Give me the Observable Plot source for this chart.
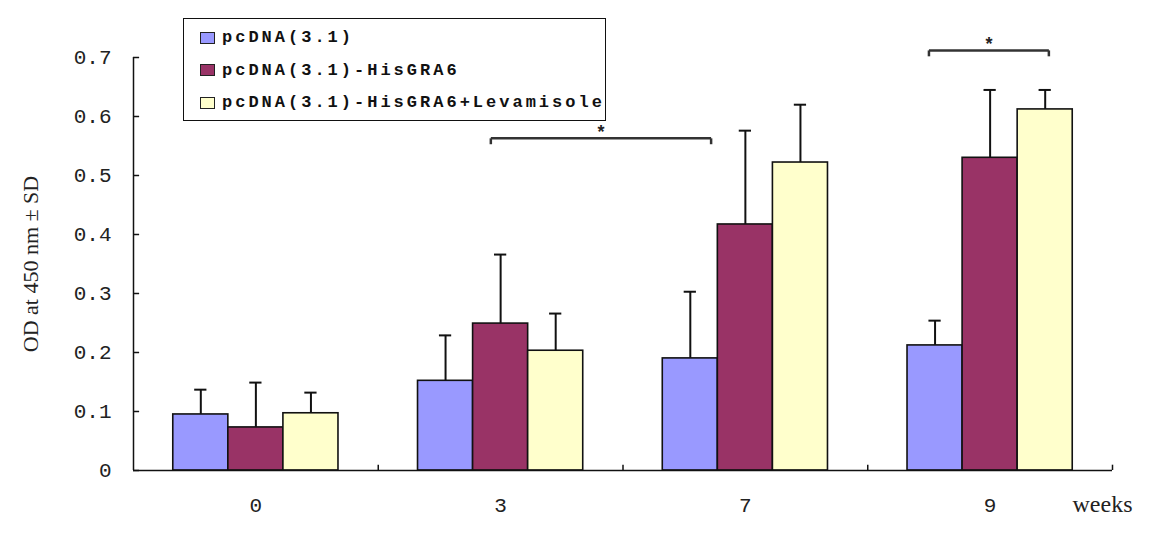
<!DOCTYPE html>
<html>
<head>
<meta charset="utf-8">
<script src="https://cdn.jsdelivr.net/npm/d3@7"></script>
<script src="https://cdn.jsdelivr.net/npm/@observablehq/plot@0.6"></script>
<style>
  html, body { margin: 0; padding: 0; background: #fff; }
  #wrap { position: relative; width: 1150px; height: 538px; }
  #legend {
    position: absolute; left: 183px; top: 18px; width: 423px; height: 103px;
    border: 1.5px solid #111; background: #fff; box-sizing: border-box;
    font-family: "Liberation Mono", "DejaVu Sans Mono", monospace; font-weight: bold;
    font-size: 17px; letter-spacing: 3px; color: #111;
  }
  .row { position: absolute; left: 16px; display: flex; align-items: center; white-space: nowrap; }
  .sw { width: 15px; height: 12px; border: 1.5px solid #222; margin-right: 7px; box-sizing: border-box; }
</style>
</head>
<body>
<div id="wrap"><div id="chart"></div><div id="legend"></div></div>
<script>
const weeks = ["0", "3", "7", "9"];
const seriesNames = ["pcDNA(3.1)", "pcDNA(3.1)-HisGRA6", "pcDNA(3.1)-HisGRA6+Levamisole"];
const seriesColors = ["#9999FF", "#993366", "#FFFFCC"];
// mean values per series (index = week)
const meanVector = [0.095, 0.152, 0.190, 0.212];
const meanGRA6 = [0.073, 0.249, 0.417, 0.530];
const meanLev = [0.097, 0.203, 0.522, 0.612];
// SD (upper error bar length)
const sdVector = [0.042, 0.077, 0.113, 0.042];
const sdGRA6 = [0.076, 0.117, 0.159, 0.115];
const sdLev = [0.035, 0.063, 0.098, 0.033];
const yTicks = [0, 0.1, 0.2, 0.3, 0.4, 0.5, 0.6, 0.7];
// significance brackets, x in week-index units
const brackets = [
  {x1: 0.96, x2: 1.86, y: 0.563, drop: 0.01, label: "*"},
  {x1: 2.75, x2: 3.24, y: 0.712, drop: 0.01, label: "*"}
];

const means = [meanVector, meanGRA6, meanLev];
const sds = [sdVector, sdGRA6, sdLev];
const barW = 0.225;
const data = [];
weeks.forEach((w, i) => {
  seriesNames.forEach((s, k) => {
    const x1 = i + (k - 1.5) * barW;
    data.push({week: w, i, series: s, k, x1, x2: x1 + barW, xc: x1 + barW / 2,
               mean: means[k][i], top: means[k][i] + sds[k][i]});
  });
});

const capHalf = 0.025;
const bracketSegs = [];
brackets.forEach(b => {
  bracketSegs.push({x1: b.x1, x2: b.x2, y1: b.y, y2: b.y});
  bracketSegs.push({x1: b.x1, x2: b.x1, y1: b.y, y2: b.y - b.drop});
  bracketSegs.push({x1: b.x2, x2: b.x2, y1: b.y, y2: b.y - b.drop});
});

const chart = Plot.plot({
  width: 1150,
  height: 538,
  marginLeft: 133,
  marginRight: 38,
  marginTop: 57,
  marginBottom: 68,
  style: {background: "#fff", overflow: "visible"},
  x: {type: "linear", domain: [-0.5, 3.5], axis: null},
  y: {domain: [0, 0.7], axis: null},
  color: {domain: seriesNames, range: seriesColors},
  marks: [
    Plot.rectY(data, {x1: "x1", x2: "x2", y1: 0, y2: "mean", fill: "series", stroke: "#111", strokeWidth: 1.6}),
    Plot.ruleX(data, {x: "xc", y1: "mean", y2: "top", stroke: "#111", strokeWidth: 2}),
    Plot.ruleY(data, {y: "top", x1: d => d.xc - capHalf, x2: d => d.xc + capHalf, stroke: "#111", strokeWidth: 2}),
    // y axis
    Plot.ruleX([-0.5], {y1: 0, y2: 0.7, stroke: "#111", strokeWidth: 1.5}),
    Plot.ruleY(yTicks, {y: d => d, x1: -0.5, x2: -0.475, stroke: "#111", strokeWidth: 1.5}),
    Plot.text(yTicks, {y: d => d, x: -0.5, text: d => d === 0 ? "0" : d3.format(".1f")(d), textAnchor: "end", dx: -22,
      fontFamily: "Liberation Mono, DejaVu Sans Mono, monospace", fontSize: 21, letterSpacing: "3.5px", fill: "#222"}),
    // x axis
    Plot.ruleY([0], {x1: -0.5, x2: 3.5, stroke: "#111", strokeWidth: 1.5}),
    Plot.ruleX([0.5, 1.5, 2.5, 3.5], {x: d => d, y1: 0, y2: 0.009, stroke: "#111", strokeWidth: 1.5}),
    Plot.text(weeks, {x: (d, i) => i, y: 0, text: d => d, dy: 35,
      fontFamily: "Liberation Mono, DejaVu Sans Mono, monospace", fontSize: 21, fill: "#222"}),
    Plot.text(["weeks"], {x: 3.5, y: 0, text: d => d, dy: 34, dx: -40, textAnchor: "start",
      fontFamily: "Liberation Serif, DejaVu Serif, serif", fontSize: 24, fill: "#222"}),
    // y label
    Plot.text(["OD at 450 nm \u00b1 SD"], {x: -0.5, y: 0.35, dy: 0, dx: -103, rotate: -90, text: d => d,
      fontFamily: "Liberation Serif, DejaVu Serif, serif", fontSize: 22, fill: "#222"}),
    // brackets
    Plot.link(bracketSegs, {x1: "x1", x2: "x2", y1: "y1", y2: "y2", stroke: "#333", strokeWidth: 2.5}),
    Plot.text(brackets, {x: d => (d.x1 + d.x2) / 2, y: "y", text: "label", dy: -6,
      fontFamily: "Liberation Sans, sans-serif", fontSize: 18, fontWeight: "bold", fill: "#222"})
  ]
});
document.getElementById("chart").appendChild(chart);

const legend = document.getElementById("legend");
seriesNames.forEach((s, k) => {
  const row = document.createElement("div");
  row.className = "row";
  row.style.top = (9 + k * 32.5) + "px";
  const sw = document.createElement("div");
  sw.className = "sw";
  sw.style.background = seriesColors[k];
  const t = document.createElement("span");
  t.textContent = s;
  row.appendChild(sw); row.appendChild(t);
  legend.appendChild(row);
});
</script>
</body>
</html>
